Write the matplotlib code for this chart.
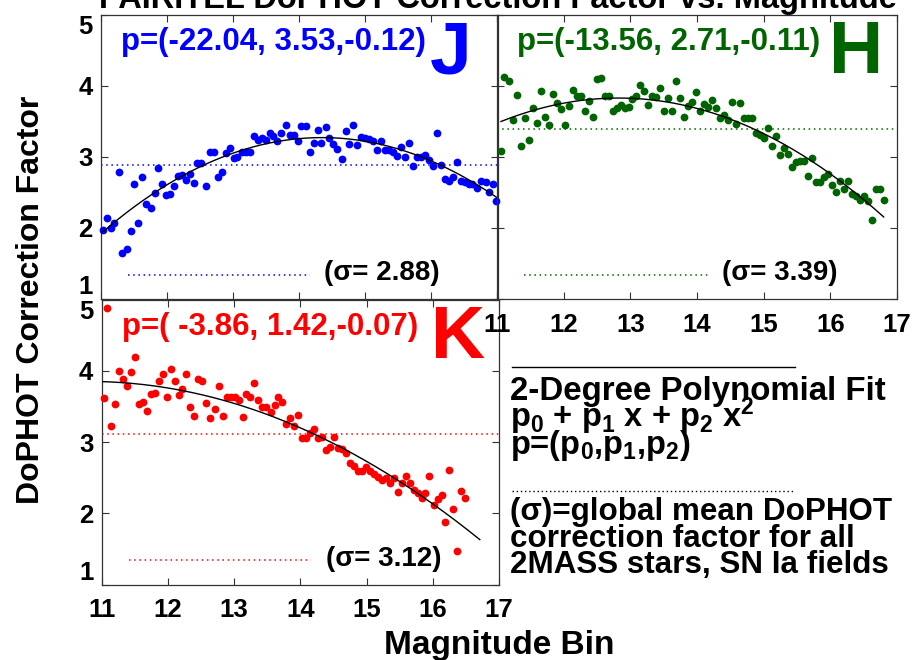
import matplotlib
matplotlib.use('Agg')
import matplotlib.pyplot as plt
from matplotlib.lines import Line2D
import numpy as np

plt.rcParams['font.family'] = ['Liberation Sans', 'DejaVu Sans']
plt.rcParams['font.weight'] = 'bold'
plt.rcParams['mathtext.fontset'] = 'custom'
plt.rcParams['mathtext.rm'] = 'Liberation Sans:bold'
plt.rcParams['mathtext.it'] = 'Liberation Sans:bold'
plt.rcParams['mathtext.bf'] = 'Liberation Sans:bold'

# ---------------- data ----------------
J_mag = [11.03, 11.09, 11.15, 11.20, 11.27, 11.32, 11.39, 11.45, 11.50, 11.56,
         11.62, 11.68, 11.75, 11.82, 11.87, 11.93, 11.98, 12.04, 12.11, 12.17,
         12.23, 12.29, 12.34, 12.41, 12.46, 12.52, 12.59, 12.65, 12.71, 12.77,
         12.83, 12.89, 12.95, 13.01, 13.06, 13.13, 13.19, 13.26, 13.31, 13.38,
         13.44, 13.50, 13.55, 13.61, 13.67, 13.73, 13.80, 13.86, 13.92, 13.98,
         14.03, 14.10, 14.16, 14.22, 14.28, 14.33, 14.40, 14.45, 14.51, 14.57,
         14.64, 14.70, 14.76, 14.81, 14.87, 14.94, 15.00, 15.06, 15.11, 15.17,
         15.24, 15.30, 15.36, 15.42, 15.48, 15.54, 15.60, 15.66, 15.72, 15.78,
         15.84, 15.90, 15.96, 16.03, 16.09, 16.15, 16.21, 16.26, 16.32, 16.39,
         16.45, 16.51, 16.57, 16.62, 16.69, 16.75, 16.82, 16.87, 16.93, 16.98]
J_corr = [1.97, 2.13, 1.99, 2.07, 2.78, 1.64, 1.70, 1.96, 2.62, 2.07,
          2.71, 2.34, 2.28, 2.49, 2.84, 2.62, 2.46, 2.48, 2.59, 2.73,
          2.74, 2.67, 2.75, 2.63, 2.91, 2.91, 2.59, 3.06, 3.06, 2.72,
          2.78, 3.05, 3.12, 2.98, 2.99, 3.07, 3.07, 3.07, 3.29, 3.24,
          3.27, 3.24, 3.33, 3.29, 3.22, 3.34, 3.45, 3.31, 3.30, 3.22,
          3.43, 3.43, 3.06, 3.20, 3.38, 3.20, 3.42, 3.27, 3.18, 3.11,
          2.97, 3.36, 3.18, 3.44, 3.16, 3.28, 3.26, 3.25, 3.22, 3.09,
          3.22, 3.09, 3.10, 3.07, 3.01, 3.13, 2.99, 3.19, 2.87, 2.99,
          2.99, 3.02, 2.96, 2.87, 3.34, 2.89, 2.69, 2.66, 2.71, 2.92,
          2.66, 2.64, 2.62, 2.62, 2.56, 2.66, 2.65, 2.50, 2.62, 2.37]

H_mag = [11.06, 11.11, 11.18, 11.24, 11.30, 11.36, 11.42, 11.48, 11.54, 11.60,
         11.66, 11.72, 11.78, 11.84, 11.90, 11.96, 12.02, 12.08, 12.14, 12.20,
         12.26, 12.32, 12.38, 12.44, 12.50, 12.56, 12.62, 12.68, 12.74, 12.80,
         12.86, 12.92, 12.98, 13.03, 13.09, 13.15, 13.21, 13.27, 13.33, 13.39,
         13.45, 13.51, 13.57, 13.63, 13.69, 13.75, 13.81, 13.87, 13.93, 13.99,
         14.05, 14.11, 14.17, 14.23, 14.29, 14.35, 14.41, 14.47, 14.53, 14.59,
         14.65, 14.71, 14.77, 14.83, 14.89, 14.95, 15.01, 15.07, 15.13, 15.19,
         15.25, 15.31, 15.37, 15.43, 15.49, 15.55, 15.61, 15.67, 15.73, 15.79,
         15.85, 15.91, 15.97, 16.03, 16.09, 16.15, 16.21, 16.27, 16.33, 16.39,
         16.45, 16.51, 16.57, 16.63, 16.69, 16.75, 16.80]
H_corr = [3.08, 4.12, 4.06, 3.51, 3.87, 3.15, 3.54, 3.23, 3.69, 3.47,
          3.93, 3.56, 3.44, 3.88, 3.76, 3.67, 3.44, 3.71, 3.94, 3.85,
          3.85, 3.64, 3.78, 3.56, 4.09, 4.11, 3.86, 3.86, 3.64, 3.68,
          3.73, 3.69, 3.70, 3.81, 3.85, 4.01, 3.93, 3.73, 3.86, 3.84,
          3.97, 3.65, 3.82, 3.65, 4.07, 3.82, 3.56, 3.72, 3.77, 3.91,
          3.65, 3.74, 3.70, 3.80, 3.68, 3.55, 3.59, 3.52, 3.77, 3.46,
          3.75, 3.54, 3.54, 3.54, 3.33, 3.31, 3.26, 3.40, 3.15, 3.29,
          3.02, 3.12, 3.04, 2.86, 2.92, 2.94, 2.94, 2.73, 2.98, 2.65,
          2.65, 2.71, 2.75, 2.60, 2.50, 2.66, 2.55, 2.66, 2.48, 2.44,
          2.39, 2.45, 2.37, 2.11, 2.55, 2.54, 2.39]

K_mag = [11.03, 11.08, 11.14, 11.20, 11.26, 11.32, 11.38, 11.44, 11.50, 11.56,
         11.62, 11.68, 11.74, 11.80, 11.86, 11.92, 11.98, 12.04, 12.10, 12.16,
         12.22, 12.28, 12.34, 12.40, 12.46, 12.52, 12.58, 12.64, 12.71, 12.77,
         12.83, 12.89, 12.95, 13.01, 13.07, 13.13, 13.18, 13.24, 13.30, 13.36,
         13.42, 13.48, 13.55, 13.61, 13.67, 13.73, 13.79, 13.85, 13.91, 13.97,
         14.02, 14.08, 14.14, 14.20, 14.26, 14.32, 14.39, 14.45, 14.51, 14.57,
         14.63, 14.69, 14.75, 14.81, 14.87, 14.93, 14.99, 15.05, 15.11, 15.17,
         15.23, 15.29, 15.35, 15.41, 15.47, 15.53, 15.59, 15.65, 15.71, 15.77,
         15.83, 15.89, 15.95, 16.02, 16.08, 16.14, 16.18, 16.25, 16.30, 16.36,
         16.42, 16.48]
K_corr = [3.62, 4.89, 3.22, 3.54, 4.00, 3.88, 3.79, 3.98, 4.20, 3.53,
          3.56, 3.44, 3.67, 3.69, 3.86, 3.96, 3.64, 4.02, 3.86, 3.66,
          3.75, 3.95, 3.50, 3.36, 3.88, 3.86, 3.55, 3.34, 3.46, 3.79,
          3.36, 3.64, 3.64, 3.64, 3.59, 3.35, 3.67, 3.64, 3.83, 3.59,
          3.50, 3.50, 3.42, 3.52, 3.64, 3.56, 3.26, 3.34, 3.22, 3.38,
          3.06, 3.06, 3.13, 3.19, 3.06, 3.07, 2.89, 2.93, 3.07, 2.92,
          2.91, 2.85, 2.70, 2.67, 2.60, 2.59, 2.65, 2.59, 2.55, 2.51,
          2.47, 2.50, 2.43, 2.49, 2.30, 2.42, 2.52, 2.43, 2.33, 2.28,
          2.21, 2.29, 2.52, 2.12, 2.20, 2.26, 1.88, 2.61, 2.06, 1.47,
          2.32, 2.21]

# fitted polynomial curves as drawn (p0, p1, p2) and their x-extent
J_fit = [-21.57, 3.463, -0.1207]
H_fit = [-13.61, 2.719, -0.106]
K_fit = [-3.548, 1.371, -0.0635]
J_fit_range = [11.0, 17.0]
H_fit_range = [11.06, 16.80]
K_fit_range = [11.0, 16.71]

# global mean correction factors
J_mean, H_mean, K_mean = 2.88, 3.39, 3.12

J_label = 'p=(-22.04, 3.53,-0.12)'
H_label = 'p=(-13.56, 2.71,-0.11)'
K_label = 'p=( -3.86, 1.42,-0.07)'

x_ticks = [11, 12, 13, 14, 15, 16, 17]
y_ticks = [1, 2, 3, 4, 5]

# ---------------- figure ----------------
W, Hpx = 913, 660
fig = plt.figure(figsize=(W / 100, Hpx / 100), dpi=100)

def fx(px):
    return px / W

def fy(py):
    return 1 - py / Hpx

axK = fig.add_axes([fx(101.7), fy(584.5), fx(499 - 101.7), (584.5 - 299.7) / Hpx])
axJ = fig.add_axes([fx(101), fy(298.7), fx(497.5 - 101), (298.7 - 14.7) / Hpx])
axH = fig.add_axes([fx(497), fy(298.7), fx(897 - 497), (298.7 - 14.7) / Hpx])

panels = [
    (axJ, J_mag, J_corr, '#0000ff', J_fit, J_fit_range, J_mean, J_label, 'J'),
    (axH, H_mag, H_corr, '#006400', H_fit, H_fit_range, H_mean, H_label, 'H'),
    (axK, K_mag, K_corr, '#ff0000', K_fit, K_fit_range, K_mean, K_label, 'K'),
]

dot = (0, (1, 2.4))
for ax, mag, corr, col, fit, frange, mean, plabel, letter in panels:
    ax.set_facecolor('none')
    ax.plot(mag, corr, 'o', ms=5.6, color=col, mec='none', clip_on=False, zorder=3)
    xs = np.linspace(frange[0], frange[1], 300)
    ax.plot(xs, np.polyval(fit[::-1], xs), color='black', lw=1.0, zorder=4)
    ax.axhline(mean, color=col, ls=dot, lw=1.1)
    ax.plot([11.41, 14.16], [1.34, 1.34], color=col, ls=dot, lw=1.1)
    ax.text(14.38, 1.36, '(σ= %.2f)' % mean, fontsize=20, color='black',
            ha='left', va='center', fontweight='bold')
    ax.text(11.3, 4.62, plabel, fontsize=22.5, color=col, ha='left', va='center',
            fontweight='bold')
    ax.text(15.98, 4.45, letter, fontsize=54, color=col, ha='left', va='center',
            fontweight='bold')
    ax.set_xlim(11, 17)
    ax.set_ylim(1, 5)
    ax.set_xticks(x_ticks)
    ax.set_yticks(y_ticks)
    ax.tick_params(direction='in', length=5, width=0.8, top=True, right=True,
                   labelsize=18.5, color='#333333')
    ax.tick_params(axis='x', pad=10)
    ax.tick_params(axis='y', pad=6)
    for s in ax.spines.values():
        s.set_linewidth(0.9)
        s.set_color('#333333')
    for lab in ax.get_xticklabels() + ax.get_yticklabels():
        lab.set_fontweight('bold')
    yt = ax.yaxis.get_major_ticks()
    yt[0].label1.set_verticalalignment('bottom')
    yt[-1].label1.set_verticalalignment('top')

axJ.tick_params(labelbottom=False)
axH.tick_params(labelleft=False)

# axis labels and title
fig.text(fx(498), fy(8), 'PAIRITEL DoPHOT Correction Factor vs. Magnitude',
         ha='center', va='baseline', fontsize=23.5, fontweight='bold')
fig.text(fx(31), fy(300), 'DoPHOT Correction Factor', rotation=90,
         ha='center', va='center', fontsize=23, fontweight='bold')
fig.text(fx(499), fy(654), 'Magnitude Bin', ha='center', va='baseline',
         fontsize=24, fontweight='bold')

# explanation box in lower right
fig.add_artist(Line2D([fx(512), fx(795)], [fy(367), fy(367)], color='black', lw=1.0))
fig.text(fx(510), fy(400), '2-Degree Polynomial Fit', ha='left', va='baseline',
         fontsize=23.8, fontweight='bold')
fig.text(fx(510), fy(427), r'p$_0$ + p$_1$ x + p$_2$ x$^2$', ha='left',
         va='baseline', fontsize=23.5, fontweight='bold')
fig.text(fx(510), fy(454), r'p=(p$_0$,p$_1$,p$_2$)', ha='left',
         va='baseline', fontsize=23.5, fontweight='bold')
fig.add_artist(Line2D([fx(512), fx(795)], [fy(491), fy(491)], color='black',
                      lw=1.0, ls=(0, (1, 2))))
fig.text(fx(510), fy(520), '(σ)=global mean DoPHOT', ha='left', va='baseline',
         fontsize=22.6, fontweight='bold')
fig.text(fx(510), fy(547), 'correction factor for all', ha='left', va='baseline',
         fontsize=22.6, fontweight='bold')
fig.text(fx(510), fy(573), '2MASS stars, SN Ia fields', ha='left', va='baseline',
         fontsize=22.6, fontweight='bold')

fig.savefig('out.png', dpi=100)
